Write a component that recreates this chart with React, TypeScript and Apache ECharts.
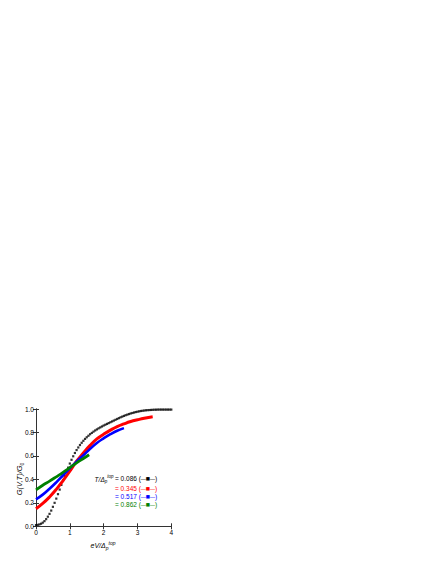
import React, { useEffect, useRef } from "react";
import * as echarts from "echarts";

// T/Δ = 0.086 (black)
const blackV = [
  0.0, 0.05, 0.1, 0.15, 0.2, 0.25, 0.3, 0.35, 0.4, 0.45, 0.5, 0.55, 0.6, 0.65, 0.7, 0.75, 0.8, 0.85, 0.9, 0.95,
  1.0, 1.05, 1.1, 1.15, 1.2, 1.25, 1.3, 1.35, 1.4, 1.45, 1.5, 1.55, 1.6, 1.65, 1.7, 1.75, 1.8, 1.85, 1.9, 1.95,
  2.0, 2.05, 2.1, 2.15, 2.2, 2.25, 2.3, 2.35, 2.4, 2.45, 2.5, 2.55, 2.6, 2.65, 2.7, 2.75, 2.8, 2.85, 2.9, 2.95,
  3.0, 3.05, 3.1, 3.15, 3.2, 3.25, 3.3, 3.35, 3.4, 3.45, 3.5, 3.55, 3.6, 3.65, 3.7, 3.75, 3.8, 3.85, 3.9, 3.95, 4.0,
];
const blackG = [
  0.01, 0.012, 0.016, 0.022, 0.031, 0.044, 0.061, 0.082, 0.106, 0.134, 0.166, 0.2, 0.236, 0.274, 0.313, 0.353, 0.393, 0.43, 0.465, 0.5,
  0.535, 0.567, 0.597, 0.625, 0.65, 0.672, 0.693, 0.712, 0.729, 0.745, 0.759, 0.772, 0.785, 0.796, 0.807, 0.817, 0.826, 0.835, 0.843, 0.851,
  0.859, 0.866, 0.873, 0.88, 0.887, 0.894, 0.901, 0.908, 0.915, 0.922, 0.929, 0.935, 0.941, 0.947, 0.952, 0.957, 0.962, 0.966, 0.97, 0.974,
  0.977, 0.98, 0.983, 0.985, 0.987, 0.989, 0.99, 0.991, 0.992, 0.993, 0.994, 0.994, 0.995, 0.995, 0.995, 0.995, 0.995, 0.995, 0.995, 0.995, 0.995,
];

// T/Δ = 0.345 (red)
const redV = [0, 0.2, 0.4, 0.6, 0.8, 1.0, 1.2, 1.4, 1.6, 1.8, 2.0, 2.2, 2.4, 2.6, 2.8, 3.0, 3.2, 3.45];
const redG = [0.15, 0.195, 0.25, 0.315, 0.39, 0.47, 0.555, 0.625, 0.69, 0.745, 0.785, 0.82, 0.85, 0.873, 0.893, 0.908, 0.921, 0.933];

// T/Δ = 0.517 (blue)
const blueV = [0, 0.2, 0.4, 0.6, 0.8, 1.0, 1.2, 1.4, 1.6, 1.8, 2.0, 2.2, 2.4, 2.6];
const blueG = [0.23, 0.27, 0.32, 0.375, 0.435, 0.495, 0.55, 0.605, 0.66, 0.71, 0.75, 0.785, 0.815, 0.837];

// T/Δ = 0.862 (green)
const greenV = [0, 0.2, 0.4, 0.6, 0.8, 1.0, 1.2, 1.4, 1.57];
const greenG = [0.31, 0.35, 0.385, 0.422, 0.46, 0.5, 0.54, 0.578, 0.61];

const legendValues = ["0.086", "0.345", "0.517", "0.862"];
const colors = ["#000000", "#ff0000", "#0000ff", "#008000"];

const xTicks = [0, 1, 2, 3, 4];
const yTicks = [0, 0.2, 0.4, 0.6, 0.8, 1.0];

const FONT = "Liberation Sans, Arial, sans-serif";

const pair = (xs: number[], ys: number[]) => xs.map((x, i) => [x, ys[i]]);

export default function App() {
  const ref = useRef<HTMLDivElement>(null);
  useEffect(() => {
    if (!ref.current) return;
    const chart = echarts.init(ref.current, undefined, { renderer: "svg" });
    const axisLine = { show: true, lineStyle: { color: "#333", width: 1 } };
    const tick = { show: true, inside: true, length: 3, lineStyle: { color: "#333", width: 1 } };
    const legendRows = legendValues.map((v, i) => ({
      type: "text",
      left: 115,
      top: [475, 485, 493, 501][i],
      style: {
        text: `{t|= ${v} (}{d|—}{m|■}{d|—}{t|)}`,
        fill: colors[i],
        font: `6.5px ${FONT}`,
        rich: {
          t: { fontSize: 6.5, fill: colors[i], fontFamily: FONT },
          d: { fontSize: 5, fill: colors[i], fontFamily: FONT },
          m: { fontSize: 4.5, fill: colors[i], fontFamily: "DejaVu Sans" },
        },
      },
    }));
    chart.setOption({
      animation: false,
      backgroundColor: "#ffffff",
      grid: { left: 36, top: 409, width: 135.3, height: 117.3, containLabel: false },
      xAxis: [
        {
          type: "value",
          min: 0,
          max: 4,
          interval: 1,
          position: "bottom",
          axisLine,
          axisTick: tick,
          splitLine: { show: false },
          axisLabel: {
            fontSize: 6.5,
            fontFamily: FONT,
            color: "#000",
            margin: 3,
            formatter: (v: number) => (xTicks.includes(v) ? String(v) : ""),
          },
        },
        {
          type: "value",
          min: 0,
          max: 4,
          interval: 1,
          position: "top",
          axisLine,
          axisTick: tick,
          splitLine: { show: false },
          axisLabel: { show: false },
        },
      ],
      yAxis: [
        {
          type: "value",
          min: 0,
          max: 1,
          interval: 0.2,
          position: "left",
          axisLine,
          axisTick: tick,
          splitLine: { show: false },
          axisLabel: {
            fontSize: 6.5,
            fontFamily: FONT,
            color: "#000",
            margin: 2,
            formatter: (v: number) => {
              const t = yTicks.find((y) => Math.abs(y - v) < 1e-6);
              return t === undefined ? "" : t.toFixed(1);
            },
          },
        },
        {
          type: "value",
          min: 0,
          max: 1,
          interval: 0.2,
          position: "right",
          axisLine,
          axisTick: tick,
          splitLine: { show: false },
          axisLabel: { show: false },
        },
      ],
      series: [
        {
          type: "scatter",
          data: pair(blackV, blackG),
          symbol: "rect",
          symbolSize: 2.2,
          itemStyle: { color: colors[0] },
          z: 2,
        },
        {
          type: "line",
          data: pair(redV, redG),
          showSymbol: false,
          smooth: true,
          lineStyle: { color: colors[1], width: 3 },
          z: 3,
        },
        {
          type: "line",
          data: pair(blueV, blueG),
          showSymbol: false,
          smooth: true,
          lineStyle: { color: colors[2], width: 2.6 },
          z: 4,
        },
        {
          type: "line",
          data: pair(greenV, greenG),
          showSymbol: false,
          smooth: true,
          lineStyle: { color: colors[3], width: 2.8 },
          z: 5,
        },
      ],
      graphic: [
        {
          type: "text",
          x: 19,
          y: 479,
          rotation: Math.PI / 2,
          style: {
            text: "{n|G(V,T)/G}{s|0}",
            align: "center",
            verticalAlign: "middle",
            rich: {
              n: { fontSize: 7.5, lineHeight: 10, fontStyle: "italic", fontFamily: FONT, fill: "#000" },
              s: { fontSize: 5, lineHeight: 5, verticalAlign: "bottom", fontFamily: FONT, fill: "#000" },
            },
          },
        },
        {
          type: "text",
          x: 103,
          y: 545,
          style: {
            text: "{n|eV/Δ}{s|p}{u|top}",
            align: "center",
            verticalAlign: "middle",
            rich: {
              n: { fontSize: 7, lineHeight: 10, fontStyle: "italic", fontFamily: FONT, fill: "#000" },
              s: { fontSize: 5, lineHeight: 5, verticalAlign: "bottom", fontStyle: "italic", fontFamily: FONT, fill: "#000" },
              u: { fontSize: 5, lineHeight: 5, verticalAlign: "top", fontStyle: "italic", fontFamily: FONT, fill: "#000" },
            },
          },
        },
        {
          type: "text",
          x: 113.5,
          y: 479,
          style: {
            text: "{n|T/Δ}{s|p}{u|top}",
            align: "right",
            verticalAlign: "middle",
            rich: {
              n: { fontSize: 6.5, lineHeight: 10, fontStyle: "italic", fontFamily: FONT, fill: "#000" },
              s: { fontSize: 4.5, lineHeight: 5, verticalAlign: "bottom", fontStyle: "italic", fontFamily: FONT, fill: "#000" },
              u: { fontSize: 4.5, lineHeight: 5, verticalAlign: "top", fontStyle: "italic", fontFamily: FONT, fill: "#000" },
            },
          },
        },
        ...legendRows,
      ],
    });
    return () => chart.dispose();
  }, []);
  return (
    <div
      ref={ref}
      style={{ position: "absolute", left: 0, top: 0, width: 436, height: 564 }}
    />
  );
}
